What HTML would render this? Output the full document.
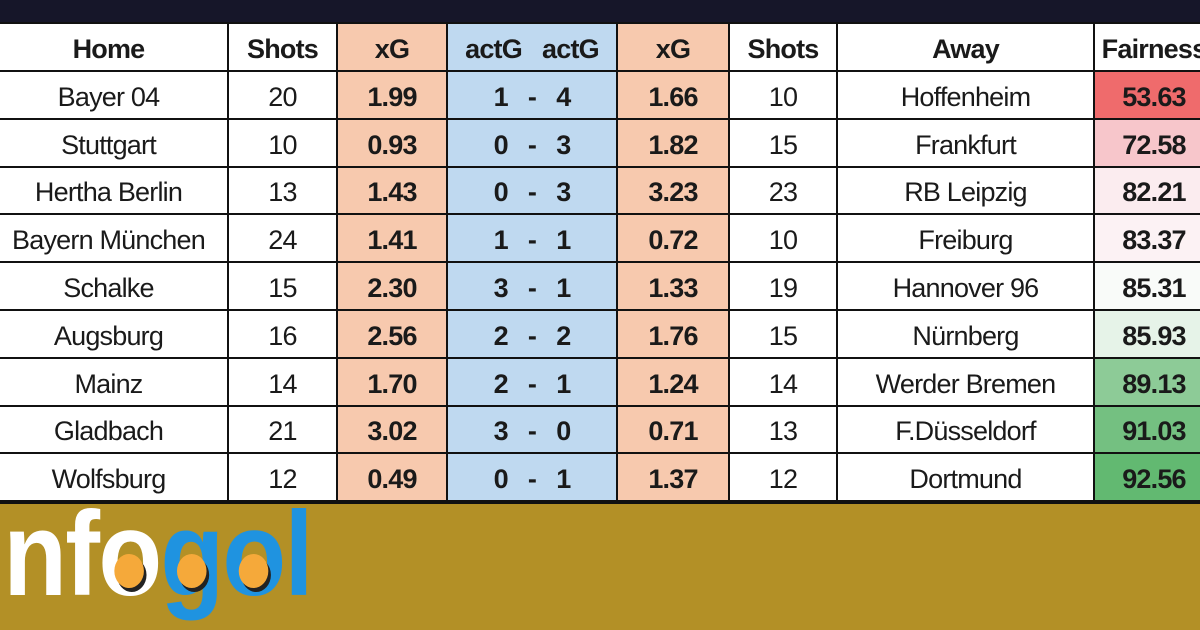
<!DOCTYPE html>
<html><head><meta charset="utf-8"><style>
*{margin:0;padding:0;box-sizing:border-box}
body{width:1200px;height:630px;overflow:hidden;background:#b39026;font-family:"Liberation Sans",sans-serif;position:relative}
#top{position:absolute;left:0;top:0;width:1200px;height:24px;background:#161629}
#tbl{position:absolute;left:0;top:22px;width:1200px;height:482px;background:#fff;border-top:2px solid #111;border-bottom:3px solid #111}
.c{position:absolute;display:flex;align-items:center;justify-content:center;padding-top:5px;font-size:27px;color:#1a1a1a;white-space:nowrap;overflow:hidden;letter-spacing:-0.8px;border-right:2px solid #111;border-bottom:2px solid #111}
.b{font-weight:bold}
#logo{position:absolute;left:-24px;top:494px;font-weight:bold;font-size:120px;letter-spacing:-2px;line-height:1;transform:scaleX(0.87);transform-origin:0 0;white-space:nowrap}
.o{position:relative;display:inline-block}
.o::after{content:"";position:absolute;left:50%;top:60px;width:34px;height:34px;margin-left:-17px;border-radius:50%;background:#f5a93a;box-shadow:3px 4px 0 #222}
</style></head><body>
<div id="top"></div>
<div id="tbl"></div>
<div id="cells"></div>
<div id="logo"><span style="color:#fff">inf<span class="o">o</span></span><span style="color:#1f93e0"><span class="o">g</span><span class="o">o</span>l</span></div>
<script>
var xs=[-10,229,338,448,618,730,838,1095,1215];
var rows=[
["Home","Shots","xG","actG&nbsp;&nbsp;&nbsp;actG","xG","Shots","Away","Fairness",null],
["Bayer 04","20","1.99","1&nbsp;&nbsp;&nbsp;-&nbsp;&nbsp;&nbsp;4","1.66","10","Hoffenheim","53.63","#ef6b6c"],
["Stuttgart","10","0.93","0&nbsp;&nbsp;&nbsp;-&nbsp;&nbsp;&nbsp;3","1.82","15","Frankfurt","72.58","#f7c6cb"],
["Hertha Berlin","13","1.43","0&nbsp;&nbsp;&nbsp;-&nbsp;&nbsp;&nbsp;3","3.23","23","RB Leipzig","82.21","#fbecef"],
["Bayern München","24","1.41","1&nbsp;&nbsp;&nbsp;-&nbsp;&nbsp;&nbsp;1","0.72","10","Freiburg","83.37","#fcf2f4"],
["Schalke","15","2.30","3&nbsp;&nbsp;&nbsp;-&nbsp;&nbsp;&nbsp;1","1.33","19","Hannover 96","85.31","#f9fbf9"],
["Augsburg","16","2.56","2&nbsp;&nbsp;&nbsp;-&nbsp;&nbsp;&nbsp;2","1.76","15","Nürnberg","85.93","#e6f3e8"],
["Mainz","14","1.70","2&nbsp;&nbsp;&nbsp;-&nbsp;&nbsp;&nbsp;1","1.24","14","Werder Bremen","89.13","#8dcb97"],
["Gladbach","21","3.02","3&nbsp;&nbsp;&nbsp;-&nbsp;&nbsp;&nbsp;0","0.71","13","F.Düsseldorf","91.03","#74c081"],
["Wolfsburg","12","0.49","0&nbsp;&nbsp;&nbsp;-&nbsp;&nbsp;&nbsp;1","1.37","12","Dortmund","92.56","#62b971"]];
var h="";
for(var r=0;r<10;r++){
 var y0=r==0?24:72+(r-1)*47.8, y1=r==0?72:72+r*47.8;
 for(var c=0;c<8;c++){
  var bg="#fff";
  if(c==2||c==4)bg="#f7c9ae";
  if(c==3)bg="#bfd9f0";
  if(c==7&&r>0)bg=rows[r][8];
  var bold=(r==0||c==2||c==3||c==4||c==7)?" b":"";
  h+='<div class="c'+bold+'" style="left:'+xs[c]+'px;top:'+y0+'px;width:'+(xs[c+1]-xs[c])+'px;height:'+(y1-y0)+'px;background:'+bg+'">'+rows[r][c]+'</div>';
 }
}
document.getElementById("cells").innerHTML=h;
</script>
</body></html>
